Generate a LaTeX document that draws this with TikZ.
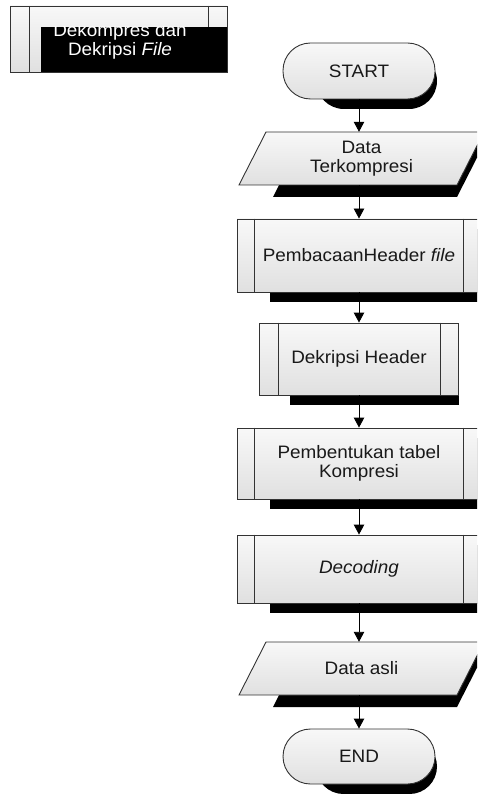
\documentclass[tikz,border=0pt]{standalone}
\usepackage{fontspec}
\setmainfont{Liberation Sans}[FakeStretch=1.05]
\usetikzlibrary{arrows.meta}
\definecolor{edge}{HTML}{333333}
\definecolor{filltop}{HTML}{F8F8F8}
\definecolor{fillbot}{HTML}{E0E0E0}
\begin{document}
\begin{tikzpicture}[x=1pt,y=-1pt,
  txt/.style={font=\fontsize{18}{19}\selectfont, align=center, inner sep=0pt, text=black!90},
  body/.style={draw=edge, line width=0.9pt, top color=filltop, bottom color=fillbot},
  terminal/.style={body, txt, rounded corners=27.5pt, minimum width=152pt},
  procbox/.style={body, txt},
  iotext/.style={txt, minimum height=53pt},
  drop/.style={fill=black},
  sideline/.style={draw=edge, line width=0.9pt},
  flow/.style={draw=black, line width=0.9pt, -{Triangle[length=10pt,width=10.5pt]}}]

\useasboundingbox (0,0) rectangle (477,794);
\clip (0,0) rectangle (477,794);

% sub-process header block
\path[body] (10,6) rectangle (227,72);
\draw[sideline] (29,6) -- (29,72);
\draw[sideline] (208,6) -- (208,72);
\fill[drop] (41,27) rectangle (227,72);
\begin{scope}
  \clip (41,27) rectangle (227,72);
  \node[txt, text=white] (title) at (120,41) {Dekompres dan\\Dekripsi \textit{File}};
\end{scope}

% START
\fill[drop, rounded corners=28pt] (316,53) rectangle (437,109);
\node[terminal, minimum height=56pt] (start) at (359,71) {START};

% compressed input data
\fill[drop] (300,144) -- (484,144) -- (457,197) -- (273,197) -- cycle;
\path[body] (266,132) -- (484,132) -- (457,185) -- (239,185) -- cycle;
\node[iotext] (d1) at (361.5,158.5) {Data\\Terkompresi};

% header reading
\fill[drop] (270,229) rectangle (481,302);
\node[procbox, minimum width=244pt, minimum height=73pt] (p1) at (359,255.5) {PembacaanHeader \textit{file}};
\draw[sideline] ([xshift=18pt]p1.north west) -- ([xshift=18pt]p1.south west);
\draw[sideline] ([xshift=-18pt]p1.north east) -- ([xshift=-18pt]p1.south east);

% header decryption
\fill[drop] (290,333) rectangle (458.5,405);
\node[procbox, minimum width=199pt, minimum height=72pt] (p2) at (359,359) {Dekripsi Header};
\draw[sideline] ([xshift=19pt]p2.north west) -- ([xshift=19pt]p2.south west);
\draw[sideline] ([xshift=-19pt]p2.north east) -- ([xshift=-19pt]p2.south east);

% table construction
\fill[drop] (270,438) rectangle (481,509);
\node[procbox, minimum width=244pt, minimum height=71pt] (p3) at (359,463.5) {Pembentukan tabel\\Kompresi};
\draw[sideline] ([xshift=18pt]p3.north west) -- ([xshift=18pt]p3.south west);
\draw[sideline] ([xshift=-18pt]p3.north east) -- ([xshift=-18pt]p3.south east);

% decoding
\fill[drop] (270,545) rectangle (481,613);
\node[procbox, minimum width=244pt, minimum height=68pt] (p4) at (359,569) {\textit{Decoding}};
\draw[sideline] ([xshift=18pt]p4.north west) -- ([xshift=18pt]p4.south west);
\draw[sideline] ([xshift=-18pt]p4.north east) -- ([xshift=-18pt]p4.south east);

% original data output
\fill[drop] (300,654) -- (484,654) -- (457,707) -- (273,707) -- cycle;
\path[body] (266,642) -- (484,642) -- (457,695) -- (239,695) -- cycle;
\node[iotext] (d2) at (361.5,668.5) {Data asli};

% END
\fill[drop, rounded corners=27.5pt] (316,739) rectangle (437,794);
\node[terminal, minimum height=55pt] (end) at (359,756.5) {END};

% flow connectors
\draw[flow] (start.south) -- (start.south |- d1.north);
\draw[flow] (d1.south -| p1.north) -- (p1.north);
\draw[flow] (p1.south) -- (p2.north);
\draw[flow] (p2.south) -- (p3.north);
\draw[flow] (p3.south) -- (p4.north);
\draw[flow] (p4.south) -- (p4.south |- d2.north);
\draw[flow] (d2.south -| end.north) -- (end.north);
\end{tikzpicture}
\end{document}
